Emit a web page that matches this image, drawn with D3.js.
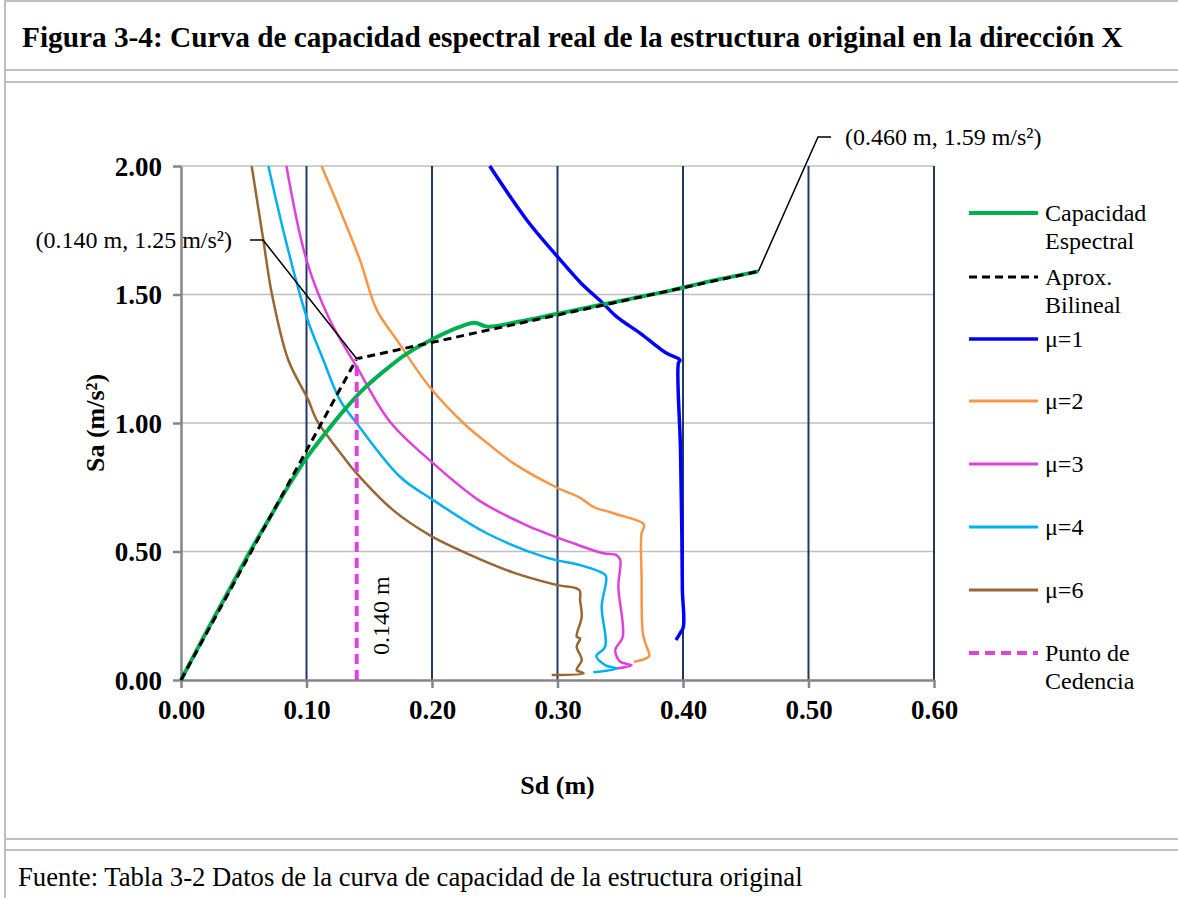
<!DOCTYPE html>
<html>
<head>
<meta charset="utf-8">
<script src="https://cdn.jsdelivr.net/npm/d3@7"></script>
<style>
  body { margin: 0; background: #fff; }
  svg { display: block; font-family: "Liberation Serif", "Times New Roman", serif; }
</style>
</head>
<body>
<svg id="chart" width="1178" height="898"></svg>
<script>
// capacity curve
const capSd = [0, 0.02, 0.04, 0.055, 0.07, 0.085, 0.10, 0.115, 0.13, 0.145, 0.16, 0.18, 0.20, 0.22, 0.234, 0.244, 0.27, 0.30, 0.33, 0.36, 0.39, 0.42, 0.46];
const capSa = [0, 0.185, 0.365, 0.50, 0.625, 0.75, 0.864, 0.96, 1.05, 1.13, 1.195, 1.27, 1.325, 1.37, 1.39, 1.375, 1.395, 1.425, 1.455, 1.485, 1.515, 1.55, 1.59];

// bilinear approximation
const bilSd = [0, 0.14, 0.46];
const bilSa = [0, 1.25, 1.59];

// demand spectra
const mu1Sd = [0.246, 0.2755, 0.30, 0.319, 0.336, 0.347, 0.366, 0.387, 0.3976, 0.3963, 0.398, 0.399, 0.3995, 0.4003, 0.3975, 0.3944];
const mu1Sa = [2.0, 1.79, 1.647, 1.543, 1.467, 1.414, 1.349, 1.271, 1.245, 1.232, 0.9, 0.6, 0.35, 0.207, 0.18, 0.156];

const mu2Sd = [0.112, 0.1267, 0.1426, 0.156, 0.172, 0.198, 0.225, 0.246, 0.265, 0.299, 0.318, 0.3286, 0.3445, 0.368, 0.369, 0.367, 0.367, 0.368, 0.3705, 0.373, 0.361];
const mu2Sa = [2.0, 1.829, 1.634, 1.44, 1.323, 1.141, 1.0, 0.914, 0.843, 0.75, 0.709, 0.674, 0.649, 0.61, 0.597, 0.571, 0.4, 0.182, 0.136, 0.093, 0.071];

const mu3Sd = [0.084, 0.1, 0.1187, 0.14, 0.1665, 0.201, 0.238, 0.275, 0.3126, 0.3365, 0.347, 0.35, 0.3485, 0.352, 0.346, 0.35, 0.359, 0.347];
const mu3Sa = [2.0, 1.634, 1.40, 1.219, 1.005, 0.843, 0.697, 0.603, 0.532, 0.493, 0.486, 0.467, 0.363, 0.168, 0.117, 0.071, 0.058, 0.045];

const mu4Sd = [0.0696, 0.084, 0.1, 0.1134, 0.1267, 0.14, 0.1745, 0.201, 0.2436, 0.2914, 0.318, 0.3339, 0.3386, 0.3352, 0.338, 0.331, 0.338, 0.347, 0.3286];
const mu4Sa = [2.0, 1.70, 1.414, 1.245, 1.089, 0.999, 0.791, 0.700, 0.571, 0.476, 0.447, 0.421, 0.405, 0.285, 0.13, 0.093, 0.058, 0.045, 0.030];

const mu6Sd = [0.0563, 0.0656, 0.0723, 0.0855, 0.1015, 0.108, 0.1293, 0.14, 0.169, 0.198, 0.2276, 0.265, 0.299, 0.3174, 0.318, 0.3193, 0.3153, 0.318, 0.3153, 0.3193, 0.3153, 0.3208, 0.2954];
const mu6Sa = [2.0, 1.712, 1.505, 1.245, 1.089, 1.012, 0.869, 0.804, 0.661, 0.564, 0.493, 0.418, 0.37, 0.35, 0.311, 0.246, 0.168, 0.162, 0.13, 0.078, 0.039, 0.026, 0.019];

// yield point and end point
const yieldSd = 0.14;
const yieldSa = 1.25;
const peakSd = 0.46;
const peakSa = 1.59;

const xTicks = [0, 0.1, 0.2, 0.3, 0.4, 0.5, 0.6];
const yTicks = [0, 0.5, 1.0, 1.5, 2.0];

const series = [
  { name: ['Capacidad', 'Espectral'], sd: capSd, sa: capSa, color: '#00b050', width: 4, dash: null, smooth: true },
  { name: ['Aprox.', 'Bilineal'], sd: bilSd, sa: bilSa, color: '#000000', width: 3, dash: '8,5', smooth: false },
  { name: ['\u03bc=1'], sd: mu1Sd, sa: mu1Sa, color: '#0000ff', width: 3.5, dash: null, smooth: true },
  { name: ['\u03bc=2'], sd: mu2Sd, sa: mu2Sa, color: '#f79646', width: 2.5, dash: null, smooth: true },
  { name: ['\u03bc=3'], sd: mu3Sd, sa: mu3Sa, color: '#e040dc', width: 2.5, dash: null, smooth: true },
  { name: ['\u03bc=4'], sd: mu4Sd, sa: mu4Sa, color: '#00b0f0', width: 2.5, dash: null, smooth: true },
  { name: ['\u03bc=6'], sd: mu6Sd, sa: mu6Sa, color: '#9a6632', width: 2.5, dash: null, smooth: true }
];

const svg = d3.select('#chart');

// page frame (table borders)
const frame = svg.append('g').attr('stroke', '#bfbfbf').attr('stroke-width', 2);
frame.append('line').attr('x1', 5).attr('x2', 1178).attr('y1', 1).attr('y2', 1);
frame.append('line').attr('x1', 5).attr('x2', 5).attr('y1', 0).attr('y2', 898);
[70, 82, 839, 850].forEach(y => {
  frame.append('line').attr('x1', 5).attr('x2', 1178).attr('y1', y).attr('y2', y);
});

svg.append('text')
  .attr('x', 22).attr('y', 47)
  .attr('font-size', 29.3).attr('font-weight', 'bold')
  .text('Figura 3-4: Curva de capacidad espectral real de la estructura original en la dirección X');

svg.append('text')
  .attr('x', 18).attr('y', 886)
  .attr('font-size', 26.7)
  .text('Fuente: Tabla 3-2 Datos de la curva de capacidad de la estructura original');

const margin = { left: 181, right: 934, top: 166, bottom: 680 };
const x = d3.scaleLinear().domain([0, 0.6]).range([margin.left, margin.right]);
const y = d3.scaleLinear().domain([0, 2]).range([margin.bottom, margin.top]);

// horizontal grid
svg.append('g').selectAll('line').data(yTicks.filter(d => d > 0)).enter().append('line')
  .attr('x1', x(0)).attr('x2', x(0.6))
  .attr('y1', d => y(d)).attr('y2', d => y(d))
  .attr('stroke', '#bfbfbf').attr('stroke-width', 1.5);

// vertical grid
svg.append('g').selectAll('line').data(xTicks.filter(d => d > 0)).enter().append('line')
  .attr('x1', d => x(d)).attr('x2', d => x(d))
  .attr('y1', y(0)).attr('y2', y(2))
  .attr('stroke', '#1f3864').attr('stroke-width', 2);

// axes
const xAxis = d3.axisBottom(x).tickValues(xTicks).tickFormat(d3.format('.2f')).tickSizeInner(8).tickSizeOuter(0).tickPadding(12);
const yAxis = d3.axisLeft(y).tickValues(yTicks).tickFormat(d3.format('.2f')).tickSizeInner(8).tickSizeOuter(0).tickPadding(11);

const gx = svg.append('g').attr('transform', `translate(0,${y(0)})`).call(xAxis);
const gy = svg.append('g').attr('transform', `translate(${x(0)},0)`).call(yAxis);
[gx, gy].forEach(g => {
  g.select('.domain').attr('stroke', '#868686').attr('stroke-width', 2.5);
  g.selectAll('.tick line').attr('stroke', '#868686').attr('stroke-width', 2.5);
  g.selectAll('.tick text')
    .attr('fill', '#000')
    .attr('font-family', '"Liberation Serif", "Times New Roman", serif')
    .attr('font-size', 27).attr('font-weight', 'bold');
});
gy.selectAll('.tick text').attr('dy', '0.35em');

svg.append('text')
  .attr('x', x(0.3)).attr('y', 794)
  .attr('text-anchor', 'middle')
  .attr('font-size', 26).attr('font-weight', 'bold')
  .text('Sd (m)');

svg.append('text')
  .attr('transform', `translate(104,${y(1)}) rotate(-90)`)
  .attr('text-anchor', 'middle')
  .attr('font-size', 26).attr('font-weight', 'bold')
  .text('Sa (m/s²)');

// series lines
const lineSmooth = d3.line().curve(d3.curveCatmullRom.alpha(0.5)).x(d => x(d[0])).y(d => y(d[1]));
const lineStraight = d3.line().x(d => x(d[0])).y(d => y(d[1]));
const drawOrder = [2, 3, 4, 5, 6, 0, 1];
drawOrder.forEach(i => {
  const s = series[i];
  svg.append('path')
    .datum(s.sd.map((v, j) => [v, s.sa[j]]))
    .attr('d', s.smooth ? lineSmooth : lineStraight)
    .attr('fill', 'none')
    .attr('stroke', s.color)
    .attr('stroke-width', s.width)
    .attr('stroke-linejoin', 'round')
    .attr('stroke-dasharray', s.dash);
});

// yield point vertical
svg.append('line')
  .attr('x1', x(yieldSd)).attr('x2', x(yieldSd))
  .attr('y1', y(0)).attr('y2', y(yieldSa))
  .attr('stroke', '#e040dc').attr('stroke-width', 4)
  .attr('stroke-dasharray', '10,6');

svg.append('text')
  .attr('transform', `translate(${x(yieldSd) + 32},${y(0.25)}) rotate(-90)`)
  .attr('text-anchor', 'middle')
  .attr('font-size', 24)
  .text('0.140 m');

// callouts
function callout(sd, sa, lx, ly, text, anchorLeft) {
  const px = x(sd), py = y(sa);
  const hx = anchorLeft ? lx - 13 : lx + 13;
  svg.append('polyline')
    .attr('points', `${px},${py} ${lx},${ly} ${hx},${ly}`)
    .attr('fill', 'none').attr('stroke', '#000').attr('stroke-width', 1.5);
  svg.append('text')
    .attr('x', anchorLeft ? hx - 18 : hx + 14)
    .attr('y', ly).attr('dy', '0.35em')
    .attr('text-anchor', anchorLeft ? 'end' : 'start')
    .attr('font-size', 24)
    .text(text);
}
callout(yieldSd, yieldSa, 263, 240, '(0.140 m, 1.25 m/s²)', true);
callout(peakSd, peakSa, 818, 137, '(0.460 m, 1.59 m/s²)', false);

// legend
const legendItems = series.map(s => ({ name: s.name, color: s.color, width: s.width, dash: s.dash }));
legendItems.push({ name: ['Punto de', 'Cedencia'], color: '#e040dc', width: 4, dash: '10,6' });
const legendY = [213, 277, 339, 401, 464, 527, 590, 653];
const lg = svg.append('g');
legendItems.forEach((it, i) => {
  const g = lg.append('g').attr('transform', `translate(969,${legendY[i]})`);
  g.append('line').attr('x1', 0).attr('x2', 69).attr('y1', 0).attr('y2', 0)
    .attr('stroke', it.color).attr('stroke-width', Math.max(it.width, 3))
    .attr('stroke-dasharray', it.dash);
  it.name.forEach((t, k) => {
    g.append('text').attr('x', 76).attr('y', k * 28).attr('dy', '0.35em')
      .attr('font-size', 24).text(t);
  });
});
</script>
</body>
</html>
